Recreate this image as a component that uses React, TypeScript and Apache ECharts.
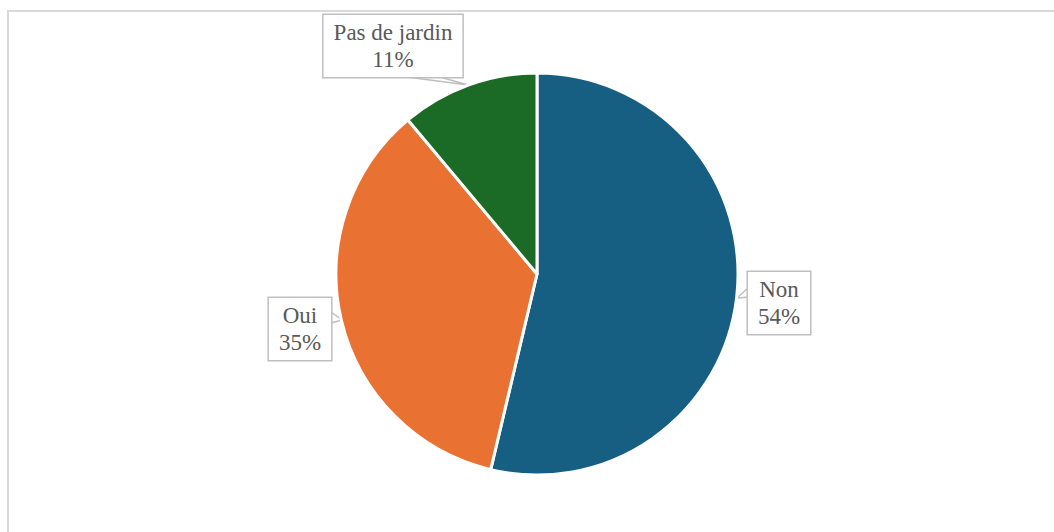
import React, { useEffect, useRef } from "react";
import * as echarts from "echarts";

const categories = ["Non", "Oui", "Pas de jardin"];
const values = [53.7, 35.2, 11.1];
const colors = ["#175f82", "#e97132", "#1b6a25"];
const labelCenters: [number, number][] = [
  [779, 303],
  [300, 329],
  [393, 46],
];
const calloutPoints: number[][][] = [
  [[749, 287], [737, 298], [749, 297]],
  [[331, 312], [342, 320], [331, 323]],
  [[407, 77], [468, 85], [440, 77]],
];

export default function App() {
  const ref = useRef<HTMLDivElement>(null);
  useEffect(() => {
    if (!ref.current) return;
    const chart = echarts.init(ref.current, null, { renderer: "svg" });
    chart.setOption({
      animation: false,
      backgroundColor: "#ffffff",
      graphic: [
        {
          type: "rect",
          shape: { x: 8, y: 11, width: 1200, height: 700 },
          style: { fill: "none", stroke: "#d9d9d9", lineWidth: 2 },
          silent: true,
        },
      ],
      series: [
        {
          type: "pie",
          center: [537, 274],
          radius: [0, 201],
          startAngle: 90,
          clockwise: true,
          percentPrecision: 0,
          itemStyle: { borderColor: "#ffffff", borderWidth: 3 },
          label: {
            show: true,
            formatter: "{b}\n{d}%",
            fontFamily: "'Liberation Serif', 'Times New Roman', serif",
            fontSize: 23,
            lineHeight: 27,
            color: "#595959",
            backgroundColor: "#ffffff",
            borderColor: "#bfbfbf",
            borderWidth: 1.5,
            padding: [4, 10],
            align: "center",
          },
          labelLine: {
            show: true,
            lineStyle: { color: "#bfbfbf", width: 1.5 },
          },
          labelLayout: (params: any) => {
            const c = labelCenters[params.dataIndex];
            return {
              x: c[0],
              y: c[1],
              align: "center",
              verticalAlign: "middle",
              labelLinePoints: calloutPoints[params.dataIndex],
            };
          },
          data: categories.map((name, i) => ({
            name,
            value: values[i],
            itemStyle: { color: colors[i] },
          })),
        },
      ],
    });
    return () => chart.dispose();
  }, []);
  return (
    <div
      ref={ref}
      style={{ position: "fixed", left: 0, top: 0, width: 1054, height: 532 }}
    />
  );
}
